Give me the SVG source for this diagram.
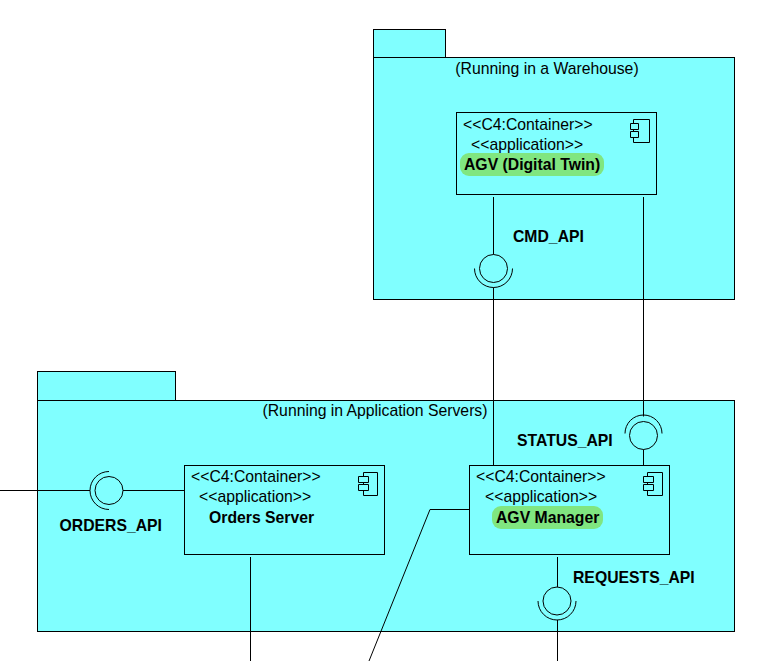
<svg xmlns="http://www.w3.org/2000/svg" width="779" height="661" viewBox="0 0 779 661">
<style>
.pkg{fill:#80ffff;stroke:#000;stroke-width:1}
.comp{fill:#80ffff;stroke:#000;stroke-width:1}
.ic{fill:none;stroke:#000;stroke-width:1}
text{font-family:"Liberation Sans",Arial,sans-serif;font-size:15.750px;fill:#000}
.b{font-weight:bold}
.hl{fill:#80e680;stroke:none}
</style>
<rect width="779" height="661" fill="#fff"/>
<g id="pkg-warehouse">
<rect class="pkg" x="373.500" y="29.500" width="72" height="28"/>
<rect class="pkg" x="373.500" y="57.500" width="361" height="242"/>
<text x="547" y="74" text-anchor="middle">(Running in a Warehouse)</text>
</g>
<g id="pkg-appservers">
<rect class="pkg" x="37.500" y="371.500" width="138" height="29"/>
<rect class="pkg" x="37.500" y="400.500" width="697" height="231"/>
<text x="375" y="416" text-anchor="middle">(Running in Application Servers)</text>
</g>
<g id="connectors" class="ic">
<path d="M493.500 197V254.500M493.500 287.500V465"/>
<path d="M643.500 197V416.500M643.500 449.500V465"/>
<path d="M0 490.500H90M123 490.500H184"/>
<path d="M250.500 557V661"/>
<path d="M469 509.500H430L369 661"/>
<path d="M557.500 557V587M557.500 620V661"/>
</g>
<g id="agv-twin">
<rect class="comp" x="456.500" y="112.500" width="200" height="82"/>
<rect class="hl" x="460" y="153" width="144" height="23" rx="9"/>
<path class="ic" d="M633.500 119.500H649.500V142.500H633.500V137.500M633.500 131.500V129.500M633.500 123.500V119.500M630.500 123.500H638.500V129.500H630.500ZM630.500 131.500H638.500V137.500H630.500Z"/>
<text x="463" y="130">&lt;&lt;C4:Container&gt;&gt;</text>
<text x="471" y="150">&lt;&lt;application&gt;&gt;</text>
<text class="b" x="464" y="170">AGV (Digital Twin)</text>
</g>
<g id="cmd-api">
<circle class="ic" cx="493.500" cy="268.500" r="14"/>
<path class="ic" d="M474.500 268.500A19 19 0 0 0 512.500 268.500"/>
<text class="b" x="513" y="242">CMD_API</text>
</g>
<g id="status-api">
<circle class="ic" cx="643.500" cy="435.500" r="14"/>
<path class="ic" d="M625 433.500A18.500 18.500 0 0 1 662 433.500"/>
<text class="b" x="517" y="446">STATUS_API</text>
</g>
<g id="orders-api">
<circle class="ic" cx="109" cy="490.500" r="14"/>
<path class="ic" d="M109 471.500A19 19 0 0 0 109 509.500"/>
<text class="b" x="59.500" y="531">ORDERS_API</text>
</g>
<g id="orders-server">
<rect class="comp" x="184.500" y="465.500" width="200" height="89"/>
<path class="ic" d="M363.500 472.500H377.500V495.500H363.500V490.500M363.500 484.500V482.500M363.500 476.500V472.500M358.500 476.500H368.500V482.500H358.500ZM358.500 484.500H368.500V490.500H358.500Z"/>
<text x="191" y="482">&lt;&lt;C4:Container&gt;&gt;</text>
<text x="199" y="502">&lt;&lt;application&gt;&gt;</text>
<text class="b" x="209" y="523">Orders Server</text>
</g>
<g id="agv-manager">
<rect class="comp" x="469.500" y="465.500" width="200" height="89"/>
<rect class="hl" x="492" y="506" width="111" height="23" rx="9"/>
<path class="ic" d="M647.500 472.500H662.500V495.500H647.500V490.500M647.500 484.500V482.500M647.500 476.500V472.500M643.500 476.500H653.500V482.500H643.500ZM643.500 484.500H653.500V490.500H643.500Z"/>
<text x="476" y="482">&lt;&lt;C4:Container&gt;&gt;</text>
<text x="485" y="502">&lt;&lt;application&gt;&gt;</text>
<text class="b" x="496" y="523">AGV Manager</text>
</g>
<g id="requests-api">
<circle class="ic" cx="557" cy="601" r="14"/>
<path class="ic" d="M538 601A19 19 0 0 0 576 601"/>
<text class="b" x="573" y="583">REQUESTS_API</text>
</g>
</svg>
